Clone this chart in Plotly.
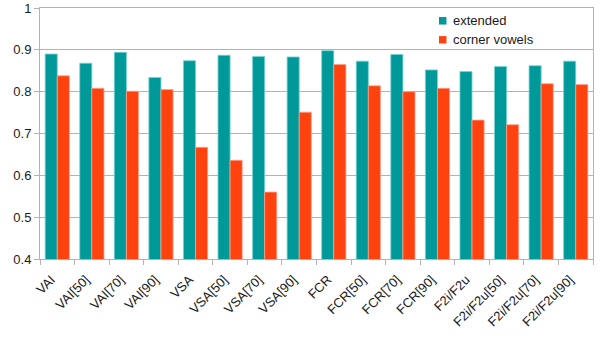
import plotly.graph_objects as go

categories = ["VAI", "VAI[50]", "VAI[70]", "VAI[90]", "VSA", "VSA[50]", "VSA[70]", "VSA[90]",
              "FCR", "FCR[50]", "FCR[70]", "FCR[90]", "F2i/F2u", "F2i/F2u[50]", "F2i/F2u[70]", "F2i/F2u[90]"]
extended = [0.890, 0.868, 0.894, 0.834, 0.874, 0.887, 0.884, 0.883,
            0.898, 0.873, 0.889, 0.852, 0.848, 0.860, 0.862, 0.873]
corner_vowels = [0.838, 0.808, 0.801, 0.805, 0.667, 0.636, 0.560, 0.751,
                 0.865, 0.814, 0.800, 0.808, 0.732, 0.721, 0.819, 0.817]
series_names = ["extended", "corner vowels"]
y_ticks = [0.4, 0.5, 0.6, 0.7, 0.8, 0.9, 1.0]
y_tick_labels = ["0.4", "0.5", "0.6", "0.7", "0.8", "0.9", "1"]

TEAL = "#009999"
ORANGE = "#ff420e"
GRID = "#b3b3b3"
FONT = "Liberation Sans, Arial, sans-serif"

fig = go.Figure()
fig.add_trace(go.Bar(x=categories, y=extended, name=series_names[0],
                     marker=dict(color=TEAL, line=dict(color="rgba(120,210,210,0.8)", width=1))))
fig.add_trace(go.Bar(x=categories, y=corner_vowels, name=series_names[1],
                     marker=dict(color=ORANGE, line=dict(color="rgba(255,160,140,0.8)", width=1))))

# legend drawn as small swatches + text (paper coordinates)
legend_rows = [(0.964, 0.934, 0.950), (0.888, 0.8586, 0.8745)]
for nm, col, (y1, y0, yt) in zip(series_names, [TEAL, ORANGE], legend_rows):
    fig.add_shape(type="rect", xref="paper", yref="paper", x0=0.7215, x1=0.735, y0=y0, y1=y1,
                  fillcolor=col, line=dict(width=0))
    fig.add_annotation(text=nm, xref="paper", yref="paper", x=0.744, y=yt,
                       xanchor="left", yanchor="middle", showarrow=False,
                       font=dict(size=13, family=FONT, color="#1a1a1a"))

fig.update_layout(
    width=605, height=340,
    margin=dict(l=40, r=12, t=8, b=81),
    paper_bgcolor="white", plot_bgcolor="white",
    barmode="group", bargap=0.30, bargroupgap=0,
    font=dict(family=FONT, size=13, color="#1a1a1a"),
    showlegend=False,
    xaxis=dict(showline=True, linecolor=GRID, linewidth=1, mirror=True, automargin=False,
               ticks="outside", tickson="boundaries", ticklen=5, tickcolor=GRID,
               ticklabelstandoff=7, ticklabelshift=-6,
               tickangle=-45, showgrid=False, tickfont=dict(size=13)),
    yaxis=dict(range=[0.4, 1.0], tickvals=y_ticks, ticktext=y_tick_labels, automargin=False,
               showline=True, linecolor=GRID, linewidth=1, mirror=True,
               ticks="outside", ticklen=5, tickcolor=GRID,
               showgrid=True, gridcolor=GRID, gridwidth=1, zeroline=False,
               tickfont=dict(size=13)),
)

fig.write_html("out.html", config={"displayModeBar": False},
               post_script="document.body.style.margin='0';document.body.style.padding='0';")
